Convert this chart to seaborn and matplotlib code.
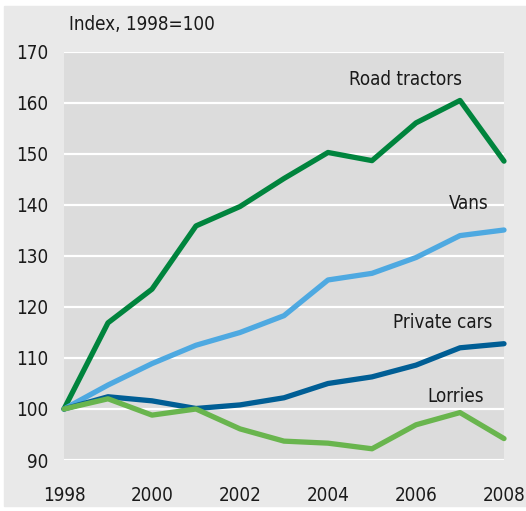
import numpy as np
import pandas as pd
import matplotlib
matplotlib.use("Agg")
import matplotlib.pyplot as plt
from matplotlib.patches import Rectangle
import seaborn as sns

# ── data (index, 1998=100) ──────────────────────────────────────────────────
years = [1998, 1999, 2000, 2001, 2002, 2003, 2004, 2005, 2006, 2007, 2008]
road_tractors = [100, 116.9, 123.5, 135.9, 139.7, 145.2, 150.3, 148.7, 156.1, 160.5, 148.6]
vans = [100, 104.7, 108.9, 112.5, 115.0, 118.3, 125.3, 126.6, 129.7, 134.0, 135.1]
private_cars = [100, 102.4, 101.6, 100.1, 100.8, 102.2, 105.0, 106.3, 108.6, 112.0, 112.8]
lorries = [100, 102.0, 98.8, 100.0, 96.1, 93.7, 93.3, 92.2, 96.9, 99.3, 94.2]

series_names = ["Road tractors", "Vans", "Private cars", "Lorries"]
series_values = [road_tractors, vans, private_cars, lorries]
colors = ["#00843d", "#4ea9e1", "#005e95", "#69b54e"]

# label anchor (x centre, y centre) in data units
label_x = [2005.77, 2007.2, 2006.6, 2006.9]
label_y = [164.7, 140.2, 116.9, 102.4]

df = pd.concat(
    [pd.DataFrame({"year": years, "value": v, "series": n})
     for n, v in zip(series_names, series_values)],
    ignore_index=True,
)

# ── style ───────────────────────────────────────────────────────────────────
sns.set_style("white")
plt.rcParams["font.family"] = ["DejaVu Sans"]
plt.rcParams["font.stretch"] = "condensed"
plt.rcParams["text.color"] = "#1a1a1a"
FS = 13.5

W, H = 526, 511
fig = plt.figure(figsize=(W / 100, H / 100), dpi=100)
fig.patch.set_facecolor("white")
fig.add_artist(Rectangle((4 / W, 5 / H), (W - 4) / W, (H - 11) / H,
                         transform=fig.transFigure, color="#e9e9e9", zorder=-10))

ax = fig.add_axes([64 / W, 1 - 460 / H, 440 / W, 408 / H])
ax.set_facecolor("#dcdcdc")

sns.lineplot(data=df, x="year", y="value", hue="series",
             hue_order=series_names, palette=colors,
             linewidth=3.8, legend=False, ax=ax)
for line in ax.lines:
    line.set_clip_on(False)
    line.set_solid_capstyle("round")
    line.set_solid_joinstyle("round")

ax.set_xlim(1998, 2008)
ax.set_ylim(90, 170)
ax.set_xticks(range(1998, 2009, 2))
ax.set_yticks(range(90, 171, 10))
ax.yaxis.grid(True, color="white", linewidth=1.6)
ax.set_axisbelow(True)
for s in ax.spines.values():
    s.set_visible(False)
ax.tick_params(axis="both", length=0, labelsize=FS, colors="#1a1a1a")
ax.tick_params(axis="x", pad=19)
ax.tick_params(axis="y", pad=11)
ax.set_xlabel("")
ax.set_ylabel("")

for name, lx, ly in zip(series_names, label_x, label_y):
    ax.text(lx, ly, name, ha="center", va="center", fontsize=FS)

fig.text(69 / W, 1 - 25 / H, "Index, 1998=100", ha="left", va="center", fontsize=FS)

fig.savefig("out.png", dpi=100)
